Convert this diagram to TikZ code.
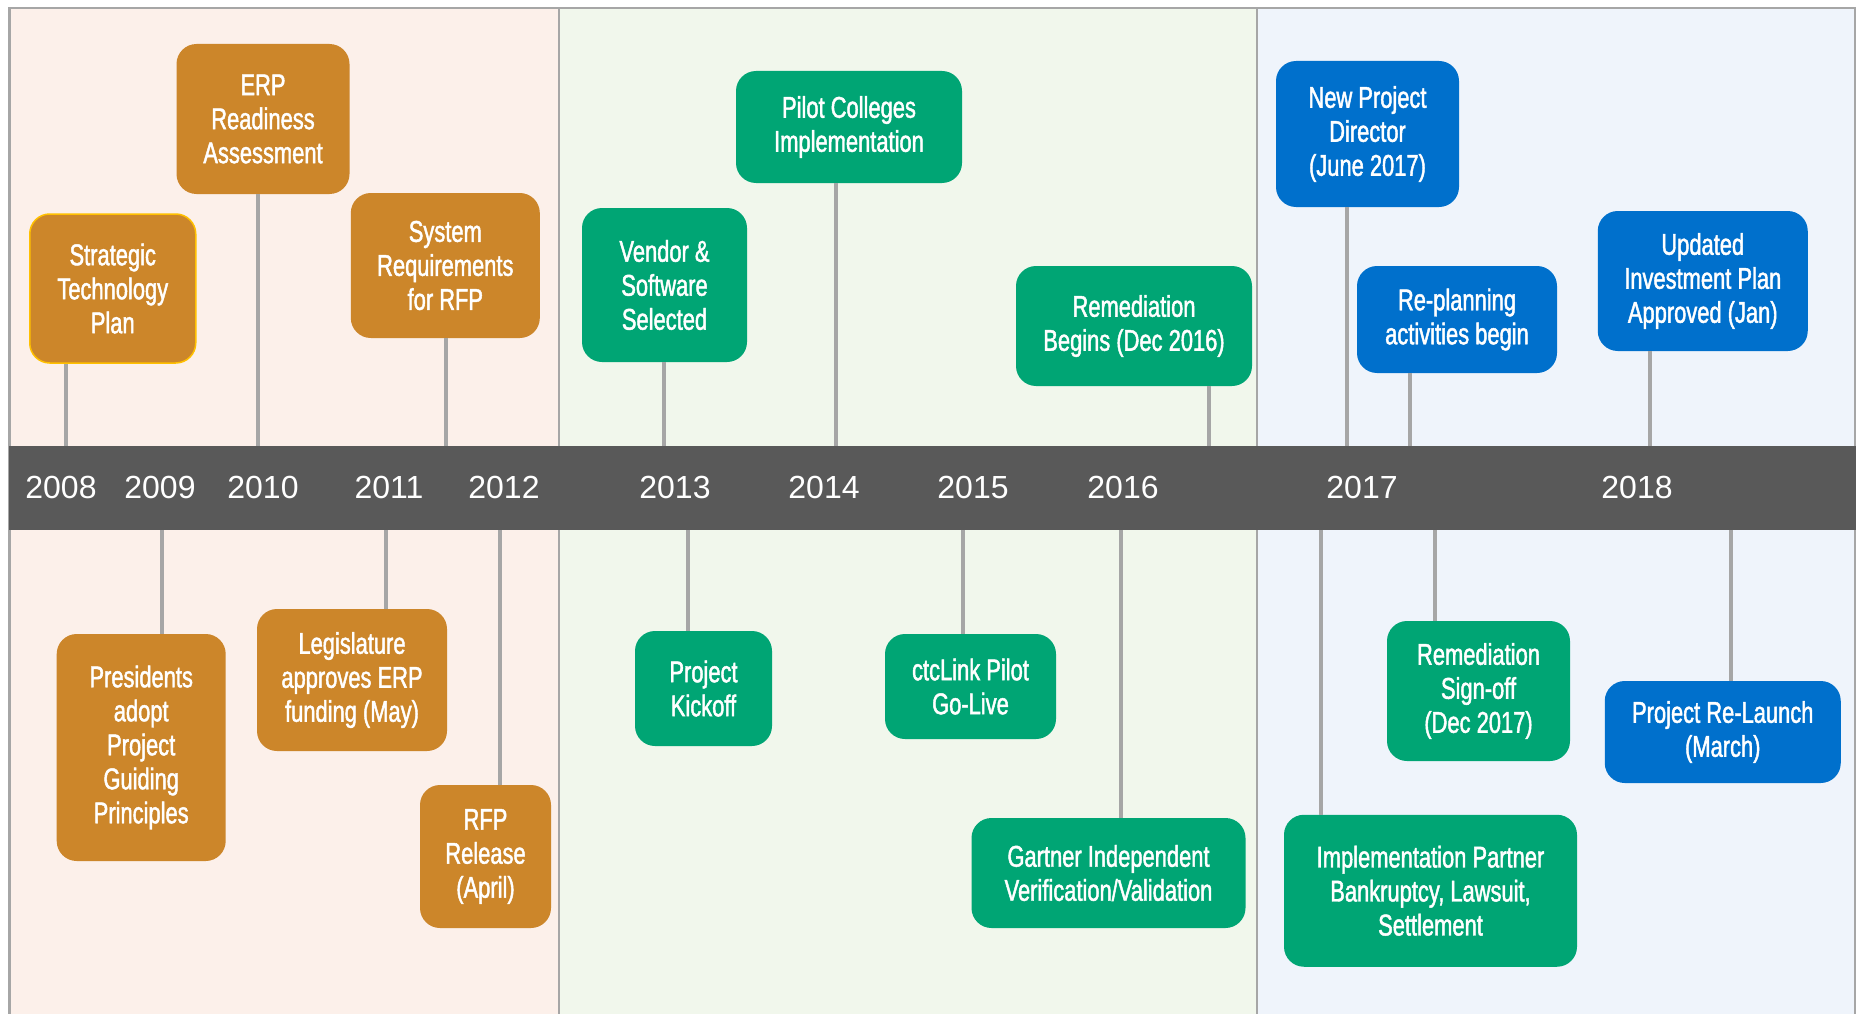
\documentclass[tikz,border=0pt]{standalone}
\usepackage{fontspec}
\setmainfont{Liberation Sans}
\newfontfamily\narrowfont[FakeStretch=0.73,FakeBold=1.5]{Liberation Sans}
\usetikzlibrary{positioning}
\definecolor{erporange}{RGB}{204,134,42}
\definecolor{ctcgreen}{RGB}{0,165,116}
\definecolor{ctcblue}{RGB}{0,112,204}
\definecolor{bargray}{RGB}{89,89,89}
\definecolor{stemgray}{RGB}{166,166,166}
\definecolor{peach}{RGB}{252,240,234}
\definecolor{mint}{RGB}{241,247,236}
\definecolor{ice}{RGB}{239,244,251}
\definecolor{gold}{RGB}{255,192,0}

\begin{document}
\begin{tikzpicture}[x=1pt, y=-1pt,
    event/.style={rounded corners=20pt, text=white, align=center, inner sep=0pt,
        font=\narrowfont\fontsize{30}{34}\selectfont},
    stem/.style={stemgray, line width=4pt},
    year/.style={text=white, font=\fontsize{32}{36}\selectfont}]
    \useasboundingbox (0,0) rectangle (1860,1014);
    % three phases
    \fill[peach] (9.5,8) rectangle (559,1014);
    \fill[mint] (559,8) rectangle (1257,1014);
    \fill[ice] (1257,8) rectangle (1855,1014);
    \draw[stemgray, line width=2.5pt] (9.5,1014) -- (9.5,8) -- (1855,8) -- (1855,1014);
    \draw[stemgray, line width=2.5pt] (559,8) -- (559,1014);
    \draw[stemgray, line width=2.5pt] (1257,8) -- (1257,1014);

    % time axis
    \node[fill=bargray, minimum width=1847pt, minimum height=84pt, inner sep=0pt] (axis) at (932.5,488) {};
    \foreach \yr/\yx in {2008/61, 2009/160, 2010/263, 2011/389, 2012/504, 2013/675,
        2014/824, 2015/973, 2016/1123, 2017/1362, 2018/1637}
        \node[year] (y\yr) at (\yx,487) {\yr};

    % above the axis
    \node[event, fill=erporange, draw=gold, line width=1.5pt, minimum width=166pt, minimum height=149pt] (stp) at (112.75,288.5) {Strategic\\Technology\\Plan};
    \node[event, fill=erporange, minimum width=173pt, minimum height=150pt] (erp) at (263,119) {ERP\\Readiness\\Assessment};
    \node[event, fill=erporange, minimum width=189pt, minimum height=145pt] (sysreq) at (445.3,265.5) {System\\Requirements\\for RFP};
    \node[event, fill=ctcgreen, minimum width=165pt, minimum height=154pt] (vendor) at (664.5,285) {Vendor \&\\Software\\Selected};
    \node[event, fill=ctcgreen, minimum width=226pt, minimum height=112pt] (pilot) at (849,127) {Pilot Colleges\\Implementation};
    \node[event, fill=ctcgreen, minimum width=236pt, minimum height=120pt] (rembeg) at (1134,326) {Remediation\\Begins (Dec 2016)};
    \node[event, fill=ctcblue, minimum width=183pt, minimum height=146pt] (newdir) at (1367.5,134) {New Project\\Director\\(June 2017)};
    \node[event, fill=ctcblue, minimum width=200pt, minimum height=107pt] (replan) at (1457,319.5) {Re-planning\\activities begin};
    \node[event, fill=ctcblue, minimum width=210pt, minimum height=140pt] (updated) at (1702.75,281) {Updated\\Investment Plan\\Approved (Jan)};

    % below the axis
    \node[event, fill=erporange, minimum width=169pt, minimum height=227pt] (pres) at (141.2,747.5) {Presidents\\adopt\\Project\\Guiding\\Principles};
    \node[event, fill=erporange, minimum width=190pt, minimum height=142pt] (legis) at (352,680) {Legislature\\approves ERP\\funding (May)};
    \node[event, fill=erporange, minimum width=131pt, minimum height=143pt] (rfp) at (485.5,856.5) {RFP\\Release\\(April)};
    \node[event, fill=ctcgreen, minimum width=137pt, minimum height=115pt] (kickoff) at (703.5,688.5) {Project\\Kickoff};
    \node[event, fill=ctcgreen, minimum width=171pt, minimum height=105pt] (golive) at (970.5,686.5) {ctcLink Pilot\\Go-Live};
    \node[event, fill=ctcgreen, minimum width=274pt, minimum height=110pt] (gartner) at (1108.5,873) {Gartner Independent\\Verification/Validation};
    \node[event, fill=ctcgreen, minimum width=183pt, minimum height=140pt] (signoff) at (1478.5,691) {Remediation\\Sign-off\\(Dec 2017)};
    \node[event, fill=ctcblue, minimum width=236pt, minimum height=102pt] (relaunch) at (1722.75,732) {Project Re-Launch\\(March)};
    \node[event, fill=ctcgreen, minimum width=293pt, minimum height=152pt] (partner) at (1430.5,890.75) {Implementation Partner\\Bankruptcy, Lawsuit,\\Settlement};

    % stems
    \foreach \ev/\sx in {stp/66, erp/257.6, sysreq/446, vendor/664, pilot/836,
        rembeg/1209, newdir/1346.5, replan/1410, updated/1650} {
        \coordinate (s) at (\sx,0);
        \draw[stem] (s |- \ev.south) -- (s |- axis.north);
    }
    \foreach \ev/\sx in {pres/161.5, legis/386, rfp/500, kickoff/688, golive/963,
        gartner/1121, signoff/1435, relaunch/1730.5, partner/1321} {
        \coordinate (s) at (\sx,0);
        \draw[stem] (s |- axis.south) -- (s |- \ev.north);
    }
\end{tikzpicture}
\end{document}
